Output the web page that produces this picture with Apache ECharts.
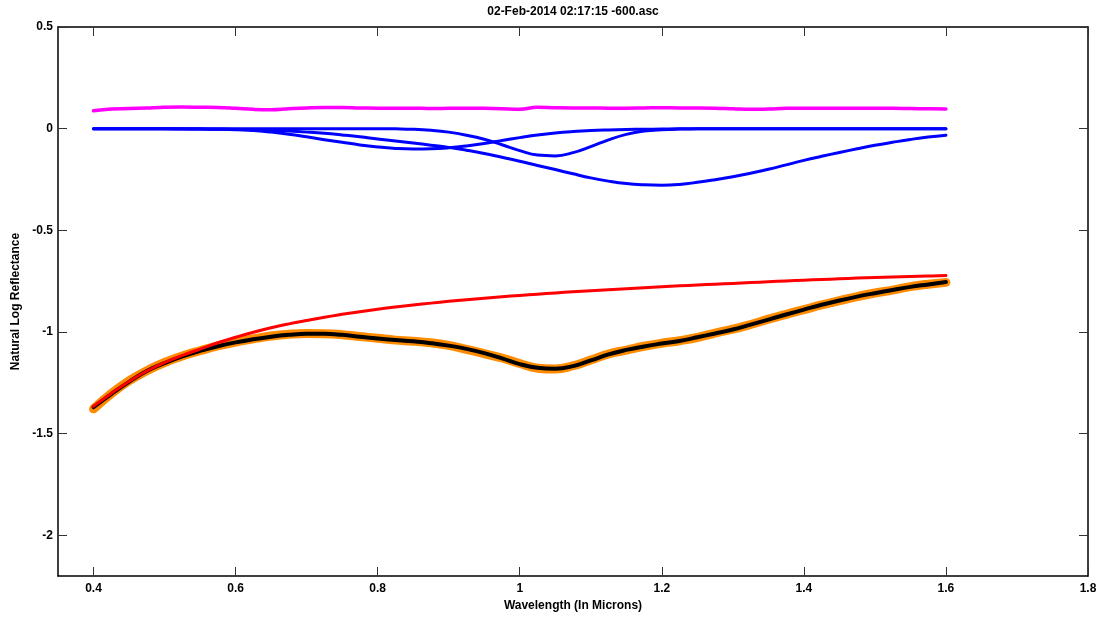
<!DOCTYPE html>
<html><head><meta charset="utf-8">
<script src="https://cdn.jsdelivr.net/npm/echarts@6/dist/echarts.min.js"></script>
<style>html,body{margin:0;padding:0;background:#fff}#c{width:1106px;height:619px}</style>
</head><body><div id="c"></div>
<script>
const chartTitle = '02-Feb-2014 02:17:15 -600.asc';
const xTicks = [0.4, 0.6, 0.8, 1, 1.2, 1.4, 1.6, 1.8];
const yTicks = [-2, -1.5, -1, -0.5, 0, 0.5];

const wavelength = [0.400,0.425,0.450,0.475,0.500,0.525,0.550,0.575,0.600,0.625,0.650,0.675,0.700,0.725,0.750,0.775,0.800,0.825,0.850,0.875,0.900,0.925,0.950,0.975,1.000,1.025,1.050,1.075,1.100,1.125,1.150,1.175,1.200,1.225,1.250,1.275,1.300,1.325,1.350,1.375,1.400,1.425,1.450,1.475,1.500,1.525,1.550,1.575,1.600];

const residual = [0.088,0.097,0.099,0.102,0.105,0.106,0.105,0.104,0.100,0.095,0.093,0.098,0.102,0.104,0.104,0.102,0.101,0.100,0.101,0.099,0.100,0.101,0.100,0.098,0.096,0.105,0.103,0.102,0.102,0.101,0.101,0.102,0.103,0.102,0.102,0.101,0.098,0.095,0.097,0.100,0.101,0.101,0.101,0.100,0.100,0.100,0.099,0.098,0.097];

const band1 = [0,0,0,0,0,-0.001,-0.002,-0.003,-0.005,-0.009,-0.017,-0.027,-0.040,-0.054,-0.067,-0.080,-0.090,-0.097,-0.100,-0.099,-0.094,-0.085,-0.073,-0.058,-0.044,-0.031,-0.021,-0.014,-0.009,-0.006,-0.004,-0.003,-0.002,-0.001,-0.001,0,0,0,0,0,0,0,0,0,0,0,0,0,0];

const band2 = [0,0,0,0,0,0,0,0,0,0,0,0,0,0,0,0,0,-0.001,-0.003,-0.008,-0.017,-0.032,-0.052,-0.079,-0.108,-0.130,-0.134,-0.118,-0.088,-0.055,-0.028,-0.012,-0.005,-0.002,-0.001,0,0,0,0,0,0,0,0,0,0,0,0,0,0];

const band3 = [0,0,0,-0.001,-0.001,-0.002,-0.002,-0.003,-0.004,-0.006,-0.008,-0.012,-0.017,-0.023,-0.031,-0.040,-0.051,-0.061,-0.071,-0.081,-0.092,-0.106,-0.122,-0.141,-0.160,-0.181,-0.201,-0.222,-0.242,-0.258,-0.270,-0.276,-0.278,-0.274,-0.264,-0.251,-0.236,-0.219,-0.200,-0.178,-0.156,-0.136,-0.117,-0.099,-0.082,-0.067,-0.053,-0.041,-0.032];

const measured = [-1.378,-1.303,-1.240,-1.190,-1.150,-1.118,-1.092,-1.068,-1.049,-1.034,-1.020,-1.011,-1.007,-1.008,-1.013,-1.022,-1.031,-1.040,-1.045,-1.053,-1.066,-1.085,-1.106,-1.128,-1.155,-1.178,-1.182,-1.166,-1.138,-1.108,-1.089,-1.070,-1.055,-1.043,-1.027,-1.005,-0.986,-0.963,-0.937,-0.913,-0.890,-0.867,-0.846,-0.826,-0.808,-0.794,-0.777,-0.765,-0.756];

const modelFit = [-1.369,-1.305,-1.245,-1.192,-1.153,-1.120,-1.093,-1.070,-1.051,-1.036,-1.023,-1.014,-1.009,-1.009,-1.014,-1.023,-1.032,-1.039,-1.046,-1.055,-1.067,-1.083,-1.104,-1.130,-1.158,-1.176,-1.181,-1.168,-1.140,-1.110,-1.088,-1.071,-1.057,-1.044,-1.026,-1.007,-0.988,-0.964,-0.939,-0.914,-0.890,-0.866,-0.845,-0.826,-0.809,-0.793,-0.778,-0.766,-0.754];

const continuum = [-1.366,-1.302,-1.243,-1.192,-1.150,-1.115,-1.084,-1.053,-1.026,-1.001,-0.979,-0.960,-0.943,-0.927,-0.913,-0.900,-0.888,-0.877,-0.867,-0.858,-0.849,-0.841,-0.834,-0.827,-0.820,-0.814,-0.808,-0.802,-0.797,-0.792,-0.787,-0.782,-0.778,-0.773,-0.769,-0.765,-0.761,-0.757,-0.753,-0.749,-0.745,-0.742,-0.738,-0.735,-0.732,-0.730,-0.727,-0.725,-0.722];

const pairs = arr => wavelength.map((w, i) => [w, arr[i]]);
const font = 'Liberation Sans, Arial, sans-serif';
const lbl = {fontFamily: font, fontWeight: 'bold', fontSize: 12, color: '#000'};

function xAx(pos, show) {
  return {
    type: 'value', position: pos, min: 0.35, max: 1.8,
    axisLine: {show: true, onZero: false, lineStyle: {color: '#000', width: 1.5}},
    axisTick: {show: true, inside: true, length: 9, customValues: xTicks, lineStyle: {color: '#333', width: 1}},
    axisLabel: {show: show, customValues: xTicks, margin: 7, formatter: v => String(+v.toFixed(2)), ...lbl},
    splitLine: {show: false}
  };
}
function yAx(pos, show) {
  return {
    type: 'value', position: pos, min: -2.2, max: 0.5,
    axisLine: {show: true, onZero: false, lineStyle: {color: '#000', width: 1.5}},
    axisTick: {show: true, inside: true, length: 9, customValues: yTicks, lineStyle: {color: '#333', width: 1}},
    axisLabel: {show: show, customValues: yTicks, margin: 5, formatter: v => String(+v.toFixed(2)), ...lbl},
    splitLine: {show: false}
  };
}
const xb = xAx('bottom', true);
xb.name = 'Wavelength (In Microns)'; xb.nameLocation = 'middle'; xb.nameGap = 22; xb.nameTextStyle = lbl;
const yl = yAx('left', true);
yl.name = 'Natural Log Reflectance'; yl.nameLocation = 'middle'; yl.nameGap = 34; yl.nameTextStyle = lbl;

function line(arr, color, width, z) {
  return {type: 'line', data: pairs(arr), showSymbol: false, symbol: 'none', smooth: 0.45, z: z,
    lineStyle: {color: color, width: width, cap: 'round', join: 'round'}, silent: true};
}

const chart = echarts.init(document.getElementById('c'), null, {renderer: 'canvas'});
chart.setOption({
  animation: false,
  backgroundColor: '#fff',
  grid: {left: 58, right: 18, top: 27, bottom: 43, containLabel: false},
  graphic: [{type: 'text', x: 573, y: 6, style: {text: chartTitle, textAlign: 'center', textVerticalAlign: 'top', fontFamily: font, fontWeight: 'bold', fontSize: 12, fill: '#000'}}],
  xAxis: [xb, xAx('top', false)],
  yAxis: [yl, yAx('right', false)],
  series: [
    line(residual, '#ff00ff', 3.5, 2),
    line(band1, '#0000ff', 3, 3),
    line(band2, '#0000ff', 3, 3),
    line(band3, '#0000ff', 3, 3),
    line(measured, '#ff8c00', 9, 4),
    line(modelFit, '#000000', 4, 5),
    line(continuum, '#ff0000', 3, 6)
  ]
});
</script></body></html>
